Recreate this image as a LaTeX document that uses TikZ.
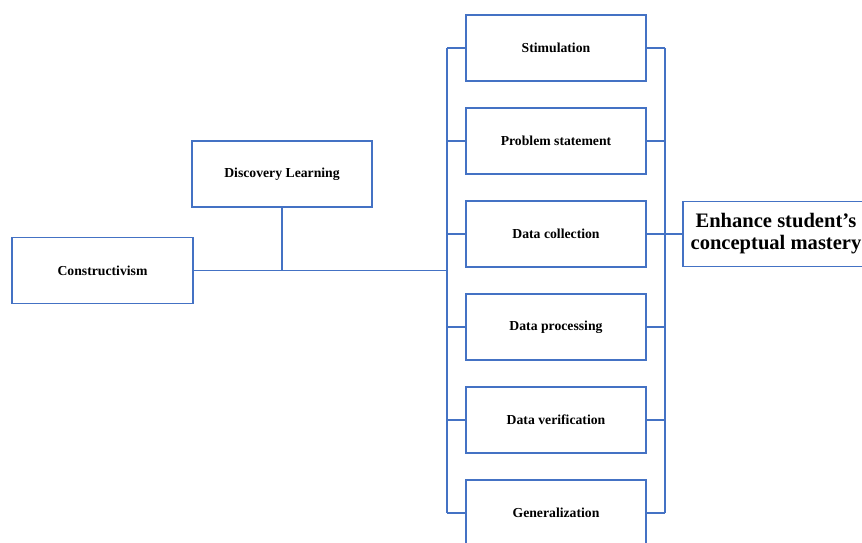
\documentclass[tikz,border=0pt]{standalone}
\usepackage{fontspec}
\setmainfont{Liberation Serif}
\definecolor{linkblue}{RGB}{68,114,196}
\begin{document}
\begin{tikzpicture}[
    box/.style={rectangle, draw=linkblue, line width=0.9pt, minimum width=3.6cm, minimum height=1.32cm, align=center, font=\fontsize{7.8}{9}\selectfont\bfseries},
    link/.style={draw=linkblue, line width=1.1pt}
]
\useasboundingbox (0,0) rectangle (17.24,-10.84);

% Theory boxes on the left
\node[box, minimum width=3.62cm] (constr) at (2.05,-5.41) {Constructivism};
\node[box] (discov) at (5.64,-3.48) {Discovery Learning};

% Six learning steps
\node[box] (s1) at (11.12,-0.96) {Stimulation};
\node[box] (s2) at (11.12,-2.82) {Problem statement};
\node[box] (s3) at (11.12,-4.68) {Data collection};
\node[box] (s4) at (11.12,-6.54) {Data processing};
\node[box] (s5) at (11.12,-8.40) {Data verification};
\node[box] (s6) at (11.12,-10.26) {Generalization};

% Outcome box
\node[box, minimum width=3.72cm, minimum height=1.3cm, font=\fontsize{11.7}{12.5}\selectfont\bfseries] (goal) at (15.52,-4.68) {Enhance student's\\conceptual mastery};

% Bus lines
\coordinate (ltop) at (8.94,-0.96);
\coordinate (lbot) at (8.94,-10.26);
\coordinate (rtop) at (13.30,-0.96);
\coordinate (rbot) at (13.30,-10.26);
\coordinate (join) at (8.94,-5.41);

% Connectors
\draw[link] (ltop) -- (lbot);
\draw[link] (rtop) -- (rbot);
\draw[link] (constr.east) -- (join);
\draw[link] (discov.south) -- (discov.south |- join);
\draw[link] (goal.west -| rtop) -- (goal.west);
\draw[link] (s1.west) -- (s1.west -| ltop);
\draw[link] (s2.west) -- (s2.west -| ltop);
\draw[link] (s3.west) -- (s3.west -| ltop);
\draw[link] (s4.west) -- (s4.west -| ltop);
\draw[link] (s5.west) -- (s5.west -| ltop);
\draw[link] (s6.west) -- (s6.west -| ltop);
\draw[link] (s1.east) -- (s1.east -| rtop);
\draw[link] (s2.east) -- (s2.east -| rtop);
\draw[link] (s3.east) -- (s3.east -| rtop);
\draw[link] (s4.east) -- (s4.east -| rtop);
\draw[link] (s5.east) -- (s5.east -| rtop);
\draw[link] (s6.east) -- (s6.east -| rtop);
\end{tikzpicture}
\end{document}
